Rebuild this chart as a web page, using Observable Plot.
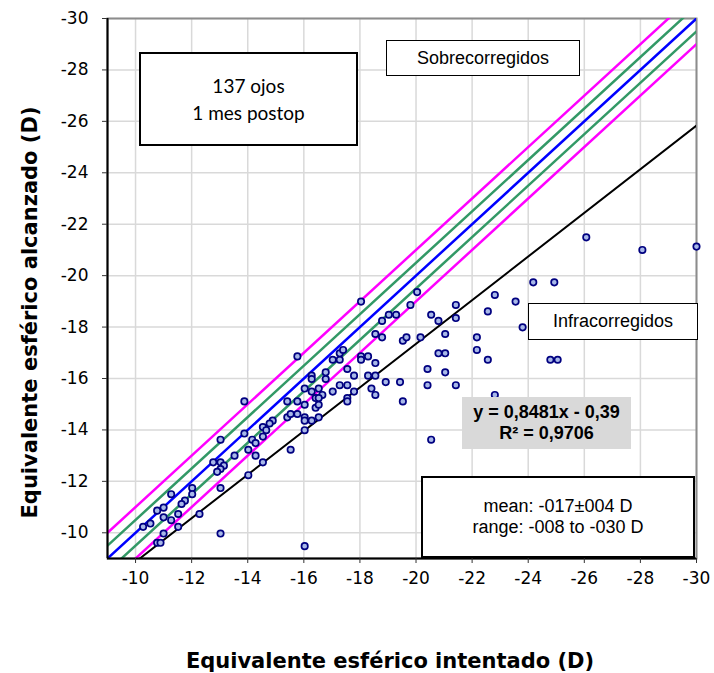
<!DOCTYPE html>
<html><head><meta charset="utf-8">
<script src="https://cdn.jsdelivr.net/npm/d3@7"></script>
<script src="https://cdn.jsdelivr.net/npm/@observablehq/plot@0.6"></script>
<style>
body{margin:0;background:#fff;}
#wrap{position:relative;width:714px;height:673px;}
.box{position:absolute;box-sizing:border-box;background:#fff;border:2px solid #000;display:flex;flex-direction:column;align-items:center;justify-content:center;font-family:"Liberation Sans",Arial,sans-serif;color:#000;}
</style></head><body>
<div id="wrap"></div>
<script>
// Attempted vs achieved spherical equivalent (D)
const intentado = [-15.77,-13.88,-15.41,-15.77,-15.41,-15.53,-15.77,-14.89,-14.78,-14.54,-14.66,-14.54,-13.88,-14.16,-13.03,-14.28,-15.53,-14.02,-13.53,-14.28,-14.54,-12.77,-13.03,-13.15,-13.03,-12.91,-14.02,-12.02,-13.03,-11.27,-12.02,-11.76,-11.64,-11.0,-10.77,-11.0,-11.52,-11.27,-12.28,-10.53,-10.27,-11.52,-11.0,-13.03,-10.77,-10.89,
-18.04,-20.04,-19.80,-19.03,-19.29,-18.79,-20.54,-20.80,-21.42,-21.42,-18.55,-18.79,-19.53,-19.66,-20.16,-21.04,-22.17,-22.17,
-17.03,-17.28,-17.28,-17.40,-18.04,-18.04,-18.29,-18.55,-20.80,-21.04,-17.55,-16.28,-16.28,-16.78,-16.78,-17.79,-18.29,-18.55,-20.41,-21.04,-18.92,-19.43,-20.41,-21.42,-16.03,-16.28,-16.53,-16.66,-16.42,-16.53,-17.03,-17.28,-17.55,-17.79,-18.41,-18.55,-17.55,-17.55,-19.53,
-16.03,-16.42,-16.53,-16.03,-16.03,-16.28,-16.53,-16.03,-20.54,
-26.07,-28.07,-30,-24.18,-24.93,-22.81,-23.55,-22.56,-23.80,-22.56,-24.79,-25.05,-22.81,-16.03];
const alcanzado = [-16.86,-15.11,-15.11,-15.11,-14.49,-14.62,-14.62,-14.36,-14.25,-14.11,-13.99,-13.74,-13.86,-13.62,-13.62,-13.49,-13.23,-13.23,-13.0,-13.0,-12.74,-12.74,-12.74,-12.61,-12.48,-12.37,-12.24,-11.74,-11.74,-11.50,-11.50,-11.25,-11.12,-10.98,-10.86,-10.60,-10.73,-10.49,-10.73,-10.36,-10.23,-10.23,-9.97,-9.97,-9.61,-9.61,
-18.99,-19.36,-18.86,-18.48,-18.48,-18.24,-18.48,-18.24,-18.86,-18.35,-17.73,-17.60,-17.47,-17.60,-17.60,-17.73,-17.60,-17.11,
-16.73,-16.73,-16.98,-17.11,-16.86,-16.73,-16.86,-16.60,-16.98,-16.98,-16.37,-16.11,-15.98,-16.24,-15.98,-16.11,-16.11,-16.11,-16.37,-16.24,-15.86,-15.86,-15.74,-15.74,-15.61,-15.49,-15.61,-15.36,-15.24,-15.24,-15.49,-15.74,-15.74,-15.49,-15.61,-15.36,-15.24,-15.11,-15.11,
-14.98,-14.86,-14.98,-14.49,-14.36,-14.36,-14.49,-13.99,-13.62,
-21.49,-21.0,-21.13,-19.74,-19.74,-19.25,-18.99,-18.61,-17.99,-16.73,-16.73,-16.73,-15.36,-9.48];

const axisDomain = [-9, -30];
const xTicks = [-10,-12,-14,-16,-18,-20,-22,-24,-26,-28,-30];
const yTicks = [-10,-12,-14,-16,-18,-20,-22,-24,-26,-28,-30];
const refOffsets = [1, 0.5, 0, -0.5, -1];
const refColors = ["#ff00ff", "#339966", "#0000ff", "#339966", "#ff00ff"];
const regSlope = 0.8481, regIntercept = -0.39;

const xTitle = "Equivalente esférico intentado (D)";
const yTitle = "Equivalente esférico alcanzado (D)";

const points = intentado.map((x, i) => ({x, y: alcanzado[i]}));
const refLines = refOffsets.map(o => axisDomain.map(x => ({x, y: x + o})));
const regLine = axisDomain.map(x => ({x, y: regSlope * x + regIntercept}));

const font = "DejaVu Sans, Verdana, sans-serif";
const chart = Plot.plot({
  width: 714, height: 673,
  marginLeft: 107, marginRight: 18, marginTop: 18, marginBottom: 115,
  style: {fontFamily: font, background: "#fff", color: "#000"},
  x: {domain: axisDomain},
  y: {domain: axisDomain},
  marks: [
    Plot.ruleX(xTicks, {stroke: "#d9d9d9", strokeWidth: 1.5}),
    Plot.ruleY(yTicks, {stroke: "#d9d9d9", strokeWidth: 1.5}),
    Plot.frame({stroke: "#8c8c8c", strokeWidth: 2}),
    ...refLines.map((d, i) => Plot.line(d, {x: "x", y: "y", stroke: refColors[i], strokeWidth: 2.5, clip: true})),
    Plot.line(regLine, {x: "x", y: "y", stroke: "#000", strokeWidth: 2, clip: true}),
    Plot.dot(points, {x: "x", y: "y", r: 3.2, stroke: "#000080", strokeWidth: 1.7, fill: "#a8b8e8"}),
    Plot.ruleX([axisDomain[0]], {stroke: "#000", strokeWidth: 2}),
    Plot.ruleY([axisDomain[0]], {stroke: "#000", strokeWidth: 2}),
    Plot.axisX(xTicks, {tickSize: 5, tickPadding: 8, fontSize: 17, tickFormat: d => String(d), label: null, stroke: "#333"}),
    Plot.axisY(yTicks, {tickSize: 5, tickPadding: 14, fontSize: 17, tickFormat: d => String(d), label: null, stroke: "#333"}),
    Plot.text([xTitle], {frameAnchor: "bottom", dx: -12, dy: 109, fontWeight: "bold", fontSize: 21, fill: "#000"}),
    Plot.text([yTitle], {frameAnchor: "left", textAnchor: "middle", dx: -77, dy: 24, rotate: -90, fontWeight: "bold", fontSize: 21, fill: "#000"})
  ]
});
const wrap = document.getElementById("wrap");
wrap.appendChild(chart);

function addBox(left, top, w, h, lines, style) {
  const b = document.createElement("div");
  b.className = "box";
  b.style.left = left + "px"; b.style.top = top + "px";
  b.style.width = w + "px"; b.style.height = h + "px";
  Object.assign(b.style, style || {});
  lines.forEach(t => { const s = document.createElement("div"); s.textContent = t; b.appendChild(s); });
  wrap.appendChild(b);
}
addBox(139, 52, 219, 94, ["137 ojos", "1 mes postop"], {fontFamily: "Lato, 'Open Sans', sans-serif", fontSize: "19px", lineHeight: "27px"});
addBox(386, 40, 194, 36, ["Sobrecorregidos"], {fontSize: "18px", borderWidth: "1.5px"});
addBox(528, 303, 170, 37, ["Infracorregidos"], {fontSize: "18px", borderWidth: "1.5px"});
addBox(462, 397, 169, 52, ["y = 0,8481x - 0,39", "R² = 0,9706"], {background: "#d9d9d9", border: "none", fontWeight: "bold", fontSize: "18px", lineHeight: "21px"});
addBox(421, 476, 274, 82, ["mean: -017±004 D", "range: -008 to -030 D"], {fontSize: "18px", lineHeight: "21px"});
</script>
</body></html>
